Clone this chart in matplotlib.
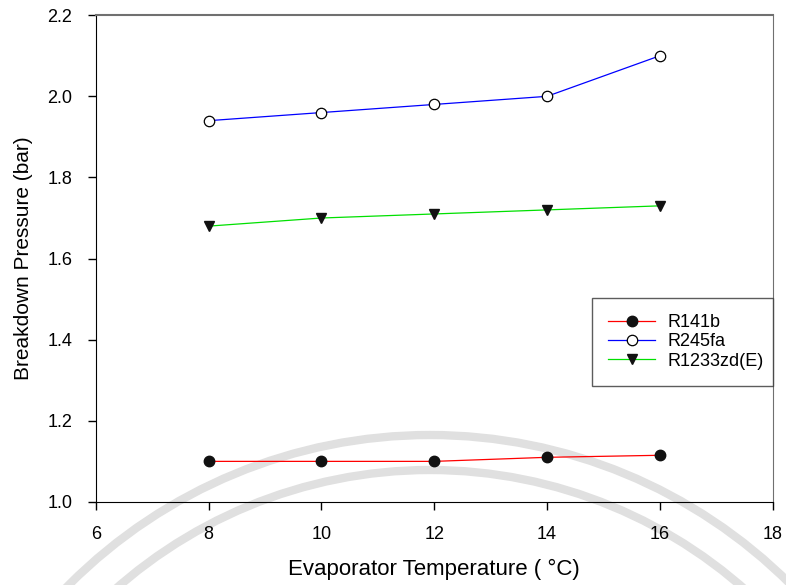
import matplotlib.pyplot as plt
from matplotlib.patches import Arc

plt.rcParams['font.family'] = ['Liberation Sans', 'DejaVu Sans']

temps = [8, 10, 12, 14, 16]
r141b = [1.10, 1.10, 1.10, 1.11, 1.115]
r245fa = [1.94, 1.96, 1.98, 2.00, 2.10]
r1233zd = [1.68, 1.70, 1.71, 1.72, 1.73]

fig = plt.figure(figsize=(7.86, 5.85), dpi=100)

# faint watermark arcs behind the plot
bg = fig.add_axes([0, 0, 1, 1], zorder=-1)
bg.set_xlim(0, 786)
bg.set_ylim(585, 0)
bg.axis('off')
for r in (510, 475):
    bg.add_patch(Arc((430, 945), 2 * r, 2 * r, theta1=180, theta2=360,
                     color='#e0e0e0', lw=6))

ax = fig.add_axes([0.122, 0.142, 0.861, 0.832])
ax.patch.set_alpha(0)

ax.plot(temps, r141b, color='red', lw=0.9, marker='o', ms=7.5,
        mfc='#111111', mec='#111111', label='R141b')
ax.plot(temps, r245fa, color='blue', lw=0.9, marker='o', ms=7.5,
        mfc='white', mec='black', mew=0.9, label='R245fa')
ax.plot(temps, r1233zd, color='#00e000', lw=0.9, marker='v', ms=7,
        mfc='#111111', mec='#111111', label='R1233zd(E)')

ax.set_xlim(6, 18)
ax.set_ylim(1.0, 2.2)
ax.set_xticks([6, 8, 10, 12, 14, 16, 18])
ax.set_yticks([1.0, 1.2, 1.4, 1.6, 1.8, 2.0, 2.2])
ax.set_yticklabels(['1.0', '1.2', '1.4', '1.6', '1.8', '2.0', '2.2'])
ax.tick_params(direction='out', length=6, width=1, labelsize=13, pad=11)
ax.spines['top'].set_color('#707070')
ax.spines['right'].set_color('#707070')
ax.spines['top'].set_linewidth(1.5)

ax.set_xlabel('Evaporator Temperature ( °C)', fontsize=16, labelpad=12)
ax.set_ylabel('Breakdown Pressure (bar)', fontsize=15, labelpad=10)

leg = ax.legend(loc='upper left', bbox_to_anchor=(0.733, 0.419, 0.267, 0.0),
                mode='expand', borderaxespad=0,
                fancybox=False, edgecolor='#333333', fontsize=13,
                handlelength=2.6, labelspacing=0.12, borderpad=0.9,
                handletextpad=0.7)
leg.get_frame().set_linewidth(1.0)

fig.savefig('out.png', dpi=100)
